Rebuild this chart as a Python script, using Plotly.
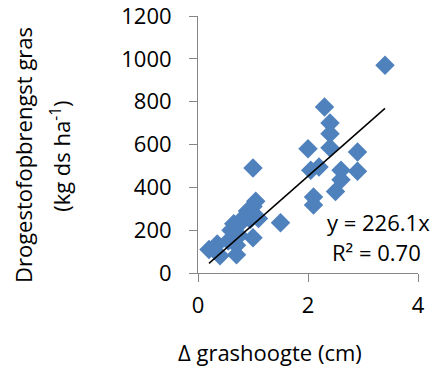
import plotly.graph_objects as go

# Data
delta_height_cm = [
    3.4, 2.3, 2.4, 2.4, 2.4, 2.0, 2.9, 2.2, 2.05, 2.6, 2.9, 2.6, 2.5, 2.1, 2.1,
    1.0, 1.5,
    0.2, 0.35, 0.4, 0.55, 0.6, 0.65, 0.7, 0.75, 0.8, 0.85, 0.9, 0.95, 1.0, 1.0,
    1.05, 1.1, 0.7,
]
dm_yield = [
    970, 775, 700, 650, 585, 580, 565, 495, 480, 480, 475, 435, 380, 355, 318,
    490, 235,
    110, 135, 80, 150, 200, 230, 85, 175, 240, 265, 290, 250, 165, 310,
    335, 255, 130,
]
slope = 226.1
r_squared = 0.70
trend_x = [0.2, 3.4]
trend_y = [slope * v for v in trend_x]

x_ticks = [0, 2, 4]
y_ticks = [0, 200, 400, 600, 800, 1000, 1200]

FONT = "Open Sans"
FS = 22
AXIS_COLOR = "#868686"

fig = go.Figure()
fig.add_trace(go.Scatter(
    x=delta_height_cm, y=dm_yield, mode="markers",
    marker=dict(symbol="diamond", size=15, color="#4F81BD", line=dict(width=0)),
    cliponaxis=False, showlegend=False, hoverinfo="skip",
))
fig.add_trace(go.Scatter(
    x=trend_x, y=trend_y, mode="lines",
    line=dict(color="black", width=1.5), showlegend=False, hoverinfo="skip",
))

fig.update_layout(
    width=437, height=369,
    margin=dict(l=198, r=19, t=16, b=96, autoexpand=False),
    paper_bgcolor="white", plot_bgcolor="white",
    font=dict(family=FONT, size=FS, color="black"),
    xaxis=dict(
        range=[0, 4], tickvals=x_ticks, showgrid=False, zeroline=False,
        showline=True, linecolor=AXIS_COLOR, linewidth=1,
        ticks="outside", ticklen=8, tickcolor=AXIS_COLOR,
        ticklabelstandoff=5, automargin=False, ticklabeloverflow="allow",
        tickfont=dict(family=FONT, size=FS, color="black"),
    ),
    yaxis=dict(
        range=[0, 1200], tickvals=y_ticks, showgrid=False, zeroline=False,
        showline=True, linecolor=AXIS_COLOR, linewidth=1,
        ticks="outside", ticklen=8, tickcolor=AXIS_COLOR,
        ticklabelstandoff=13, automargin=False, ticklabeloverflow="allow",
        tickfont=dict(family=FONT, size=FS, color="black"),
    ),
    annotations=[
        dict(text=f"y = {slope}x", x=3.29, y=238, xref="x", yref="y",
             showarrow=False, xanchor="center", yanchor="middle",
             font=dict(family=FONT, size=FS, color="black")),
        dict(text=f"R² = {r_squared:.2f}", x=3.25, y=98, xref="x", yref="y",
             showarrow=False, xanchor="center", yanchor="middle",
             font=dict(family=FONT, size=FS, color="black")),
        dict(text="Δ grashoogte (cm)", x=0.327, y=-0.307, xref="paper", yref="paper",
             showarrow=False, xanchor="center", yanchor="middle",
             font=dict(family=FONT, size=FS, color="black")),
        dict(text="Drogestofopbrengst gras", x=0, y=0.459, xref="paper", yref="paper",
             xshift=-175, textangle=-90, showarrow=False,
             xanchor="center", yanchor="middle",
             font=dict(family=FONT, size=FS, color="black")),
        dict(text="(kg ds ha<sup>-1</sup>)", x=0, y=0.452, xref="paper", yref="paper",
             xshift=-137, textangle=-90, showarrow=False,
             xanchor="center", yanchor="middle",
             font=dict(family=FONT, size=FS, color="black")),
    ],
)

fig.write_html(
    "out.html",
    config={"displayModeBar": False},
    post_script="document.body.style.margin='0';document.body.style.overflow='hidden';",
)
